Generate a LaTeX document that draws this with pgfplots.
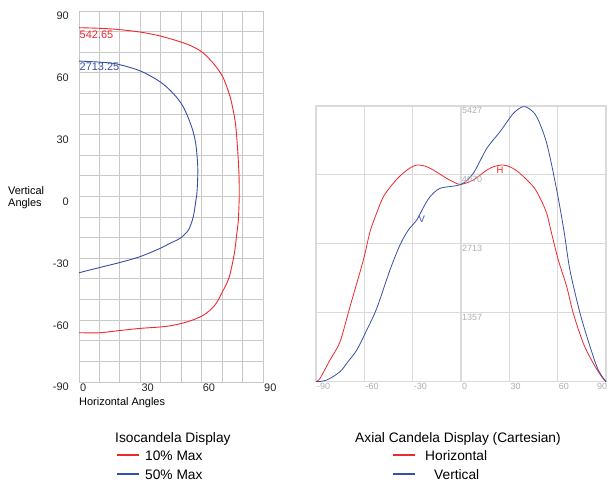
\documentclass[border=0pt]{standalone}
\usepackage{pgfplots}
\pgfplotsset{compat=1.18}
\usepackage{fontspec}
\setmainfont{Liberation Sans}
\definecolor{redc}{RGB}{240,40,45}
\definecolor{bluec}{RGB}{55,80,165}
\definecolor{gridl}{RGB}{200,200,200}
\definecolor{gridr}{RGB}{218,218,218}
\definecolor{tickr}{RGB}{175,175,175}
\begin{document}
\begin{tikzpicture}[x=1bp,y=1bp]
\useasboundingbox (0,0) rectangle (608,483);
% ---------------- Isocandela ----------------
\begin{axis}[at={(79bp,101bp)}, anchor=south west, scale only axis,
  width=184bp, height=371bp,
  xmin=0,xmax=90,ymin=-90,ymax=90,
  xtick={0,10,...,90}, xticklabels={0,,,30,,,60,,,90},
  ytick={-90,-80,...,90}, yticklabels={-90,,,-60,,,-30,,,0,,,30,,,60,,,90},
  grid=major, grid style={gridl, line width=0.9bp},
  axis line style={gridl, line width=0.9bp},
  major tick length=0pt,
  /pgf/number format/assume math mode=true,
  ticklabel style={font=\fontsize{11}{12}\selectfont, text=black!85},
  xticklabel style={anchor=north west, inner sep=1bp, yshift=-1bp},
  yticklabel style={anchor=north east, inner sep=1bp, xshift=-9bp},
  clip=false]
\addplot[redc, line width=0.9bp, smooth] coordinates {
(0,81.9)(10,81.6)(18.4,81.1)(29.8,79.8)(39.6,77.9)(49.4,75.1)(55,73)(60.3,70)
(65.7,64.6)(70.3,58.1)(73.9,48.4)(76.3,37.0)(77.4,25.6)(78.2,12)(78.4,3)
(78.3,-3)(77.9,-12)(77.2,-18)(76.0,-27.6)(73.5,-39)(70.6,-45.4)(66.5,-52.7)
(60.8,-57.6)(52.7,-60.9)(42.9,-63)(29.8,-64)(18.4,-65.2)(10.3,-66.1)(0,-66.1)};
\addplot[bluec, line width=0.9bp, smooth] coordinates {
(0,65.7)(10,65.2)(18.4,64.3)(29.8,61)(39.6,55.7)(46.1,50)(51,43.5)(55.1,33.8)
(57.1,25.6)(58.1,14.3)(57.9,5)(57.5,0)(57.2,-1.7)(55.9,-9.8)(53.5,-16.3)
(49.4,-20.3)(44.5,-22.7)(39.6,-25.2)(29.8,-29.2)(20.1,-32)(10.3,-34.4)(0,-37)};
\node[text=redc, anchor=north west, inner sep=0.5bp, font=\fontsize{11}{12}\selectfont] at (axis cs:0,80.5) {542.65};
\node[text=bluec, anchor=north west, inner sep=0.5bp, font=\fontsize{11}{12}\selectfont] at (axis cs:0,65) {2713.25};
\end{axis}
% ---------------- Axial candela ----------------
\begin{axis}[at={(316bp,101.3bp)}, anchor=south west, scale only axis,
  width=290bp, height=275.7bp,
  xmin=-90,xmax=90,ymin=0,ymax=5427,
  xtick={-90,-60,...,90}, xticklabels={-90,-60,-30,0,30,60,\llap{90}},
  ytick={0,1357,2713,4070,5427}, yticklabels={},
  grid=major, grid style={gridr, line width=1.1bp},
  axis line style={gridr, line width=1.1bp},
  major tick length=0pt,
  /pgf/number format/assume math mode=true,
  ticklabel style={font=\fontsize{9}{10}\selectfont, text=tickr},
  xticklabel style={anchor=north west, inner sep=1bp, yshift=0bp},
  clip=false]
\addplot[redc, line width=0.8bp, smooth] coordinates {
(-90,0)(-87.5,67)(-81.3,427)(-75.1,787)(-68.9,1476)(-60.6,2395)(-56.5,2950)
(-52,3350)(-48.2,3641)(-43,3870)(-37.9,4048)(-32,4200)(-27.5,4265)(-22,4240)
(-17.2,4166)(-8.9,4003)(-4,3920)(0,3884)(7.6,3969)(16,4166)(21,4240)(26.3,4265)
(31,4220)(36.6,4101)(44.9,3838)(49,3620)(53.2,3314)(56,2950)(60.4,2395)
(65.6,1870)(69.7,1346)(75.9,756)(82.1,362)(87.3,98)(90,0)};
\addplot[bluec, line width=0.8bp, smooth] coordinates {
(-90,0)(-83.3,33)(-75.1,197)(-70,400)(-64.7,624)(-58.5,1017)(-52.3,1444)
(-44.1,2198)(-37.9,2690)(-32.7,2985)(-27.5,3182)(-23,3450)(-19.2,3641)(-13,3806)
(0,3884)(7.6,4101)(16,4593)(24.2,4920)(32.5,5282)(38.3,5412)(42,5380)(47,5215)
(53.2,4692)(59.4,3773)(64,2950)(67.6,2198)(73.9,1346)(80.1,689)(85.2,230)(90,0)};
\node[text=tickr, anchor=north west, inner sep=1bp, font=\fontsize{9}{10}\selectfont] at (axis cs:0,5427) {5427};
\node[text=tickr, anchor=north west, inner sep=1bp, font=\fontsize{9}{10}\selectfont] at (axis cs:0,4070) {4070};
\node[text=tickr, anchor=north west, inner sep=1bp, font=\fontsize{9}{10}\selectfont] at (axis cs:0,2713) {2713};
\node[text=tickr, anchor=north west, inner sep=1bp, font=\fontsize{9}{10}\selectfont] at (axis cs:0,1357) {1357};
\node[text=redc, anchor=north west, inner sep=0bp, font=\fontsize{9.5}{10}\selectfont] at (axis cs:22,4230) {H};
\node[text=bluec, anchor=north west, inner sep=0bp, font=\fontsize{9.5}{10}\selectfont] at (axis cs:-26.5,3265) {V};
\end{axis}
% ---------------- labels ----------------
\node[anchor=north west, inner sep=0, font=\fontsize{11}{12}\selectfont] at (79,86) {Horizontal Angles};
\node[anchor=north west, inner sep=0, align=left, font=\fontsize{11}{12.5}\selectfont] at (8,297) {Vertical\\Angles};
% ---------------- legends ----------------
\node[anchor=base west, inner sep=0, font=\fontsize{13.8}{15}\selectfont] at (115,40) {Isocandela Display};
\draw[redc, line width=2.6bp] (117,28) -- (139,28);
\draw[bluec, line width=2.6bp] (117,9) -- (139,9);
\node[anchor=base west, inner sep=0, font=\fontsize{13.8}{15}\selectfont] at (145,22.3) {10\% Max};
\node[anchor=base west, inner sep=0, font=\fontsize{13.8}{15}\selectfont] at (145,3.7) {50\% Max};
\node[anchor=base west, inner sep=0, font=\fontsize{13.8}{15}\selectfont] at (355,40) {Axial Candela Display (Cartesian)};
\draw[redc, line width=2.6bp] (393,28) -- (415,28);
\draw[bluec, line width=2.6bp] (393,9) -- (415,9);
\node[anchor=base west, inner sep=0, font=\fontsize{13.8}{15}\selectfont] at (425,22.3) {Horizontal};
\node[anchor=base west, inner sep=0, font=\fontsize{13.8}{15}\selectfont] at (434,3.7) {Vertical};
\end{tikzpicture}
\end{document}
